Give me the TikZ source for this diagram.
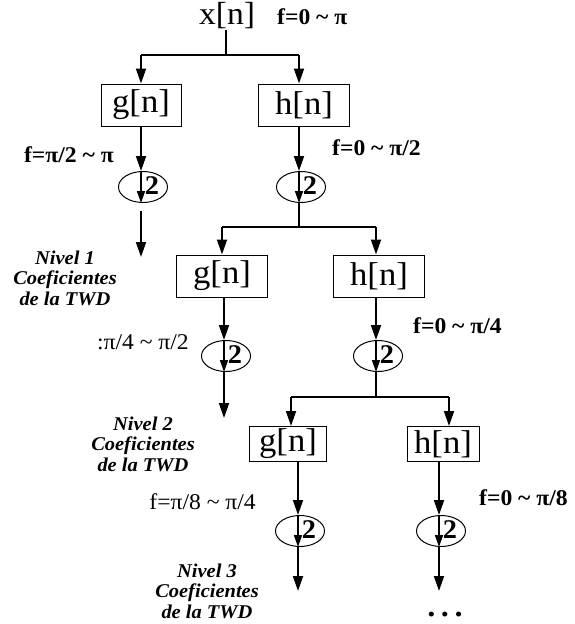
\documentclass[tikz,border=0pt]{standalone}
\usepackage{fontspec}
\setmainfont{Liberation Serif}[FakeStretch=1.05]
\usetikzlibrary{arrows.meta,shapes.geometric}
\newcommand\DSnode[3]{%
  \node[dsell] (#1) at (#2+2,#3) {};
  \draw[inarr] ([xshift=-2pt]#1.north) -- ([xshift=-2pt]#1.south);
  \node[two] (#1two) at ([xshift=9pt,yshift=1pt]#1.center) {2};
}
\begin{document}
\begin{tikzpicture}[x=1pt,y=-1pt,
  box/.style={draw,line width=1pt,minimum height=42pt,inner sep=0pt,font=\fontsize{33}{35}\selectfont},
  dsell/.style={draw,ellipse,line width=1pt,minimum width=49pt,minimum height=31pt,inner sep=0pt},
  arr/.style={line width=1.8pt,-{Triangle[length=15pt,width=10pt]}},
  ln/.style={line width=1.2pt},
  inarr/.style={line width=1.6pt,-{Triangle[length=12pt,width=8pt]}},
  lab/.style={inner sep=0pt,font=\fontsize{22.5}{24}\selectfont\bfseries},
  labr/.style={inner sep=0pt,font=\fontsize{22.5}{24}\selectfont},
  lvl/.style={align=center,inner sep=0pt,font=\fontsize{19.5}{20.5}\selectfont\bfseries\itshape},
  two/.style={inner sep=0pt,font=\fontsize{27}{27}\selectfont\bfseries}]
\useasboundingbox (0,0) rectangle (575,624);

% ---- input
\node[inner sep=1pt,font=\fontsize{32}{34}\selectfont] (xn) at (227,16) {x[n]};
\node[lab,anchor=west] (f0) at (277,17) {f=0 \textasciitilde\ π};
\coordinate (s1) at (226,55);
\coordinate (c1g) at (141,55);
\coordinate (c1h) at (299,55);
\draw[ln] (s1 |- xn.south) -- (s1);
\draw[ln] (c1g) -- (c1h);

% ---- level 1
\node[box,minimum width=80pt] (g1) at (141,105) {g[n]};
\node[box,minimum width=91pt] (h1) at (304,105) {h[n]};
\draw[arr] (c1g) -- (c1g |- g1.north);
\draw[arr] (c1h) -- (c1h |- h1.north);
\DSnode{d1g}{141}{187}
\DSnode{d1h}{299}{187}
\draw[arr] (c1g |- g1.south) -- (c1g |- d1g.north);
\draw[arr] (c1h |- h1.south) -- (c1h |- d1h.north);
\node[lab,anchor=east] (f1g) at (114,155) {f=π/2 \textasciitilde\ π};
\node[lab,anchor=west] (f1h) at (332,148) {f=0 \textasciitilde\ π/2};
\coordinate (o1gs) at (141,211);
\coordinate (o1g) at (141,257);
\draw[arr] (o1gs) -- (o1g);
\node[lvl] (n1) at (65,278) {Nivel 1\\Coeficientes\\de la TWD};

% ---- level 2
\coordinate (s2) at (299,227);
\coordinate (c2g) at (222,227);
\coordinate (c2h) at (376,227);
\draw[ln] (c1h |- d1h.south) -- (s2);
\draw[ln] (c2g) -- (c2h);
\node[box,minimum width=91pt] (g2) at (222,276) {g[n]};
\node[box,minimum width=91pt] (h2) at (379,276) {h[n]};
\draw[arr] (c2g) -- (c2g |- g2.north);
\draw[arr] (c2h) -- (c2h |- h2.north);
\coordinate (c2gd) at (224,0);
\DSnode{d2g}{224}{356}
\DSnode{d2h}{376}{356}
\draw[arr] (c2gd |- g2.south) -- (c2gd |- d2g.north);
\draw[arr] (c2h |- h2.south) -- (c2h |- d2h.north);
\node[labr,anchor=east] (f2g) at (189,342) {:π/4 \textasciitilde\ π/2};
\node[lab,anchor=west] (f2h) at (413,326) {f=0 \textasciitilde\ π/4};
\coordinate (o2g) at (224,418);
\draw[arr] (c2gd |- d2g.south) -- (o2g);
\node[lvl] (n2) at (143,444) {Nivel 2\\Coeficientes\\de la TWD};

% ---- level 3
\coordinate (s3) at (376,397);
\coordinate (c3g) at (291,397);
\coordinate (c3h) at (449,397);
\draw[ln] (c2h |- d2h.south) -- (s3);
\draw[ln] (c3g) -- (c3h);
\node[box,minimum width=77pt,minimum height=35pt] (g3) at (288,444) {g[n]};
\node[box,minimum width=72pt,minimum height=35pt] (h3) at (443,444) {h[n]};
\draw[arr] (c3g) -- (c3g |- g3.north);
\draw[arr] (c3h) -- (c3h |- h3.north);
\coordinate (c3gd) at (298,0);
\coordinate (c3hd) at (439,0);
\DSnode{d3g}{298}{531}
\DSnode{d3h}{439}{531}
\draw[arr] (c3gd |- g3.south) -- (c3gd |- d3g.north);
\draw[arr] (c3hd |- h3.south) -- (c3hd |- d3h.north);
\node[labr,anchor=east] (f3g) at (256,502) {f=π/8 \textasciitilde\ π/4};
\node[lab,anchor=west] (f3h) at (479,498) {f=0 \textasciitilde\ π/8};
\coordinate (o3g) at (298,591);
\coordinate (o3h) at (439,591);
\draw[arr] (c3gd |- d3g.south) -- (o3g);
\draw[arr] (c3hd |- d3h.south) -- (o3h);
\node[lvl] (n3) at (207,591) {Nivel 3\\Coeficientes\\de la TWD};
\node[inner sep=0pt,font=\fontsize{18}{18}\selectfont\bfseries] (dots) at (445,616) {•\hspace{7pt}•\hspace{7pt}•};
\end{tikzpicture}
\end{document}
